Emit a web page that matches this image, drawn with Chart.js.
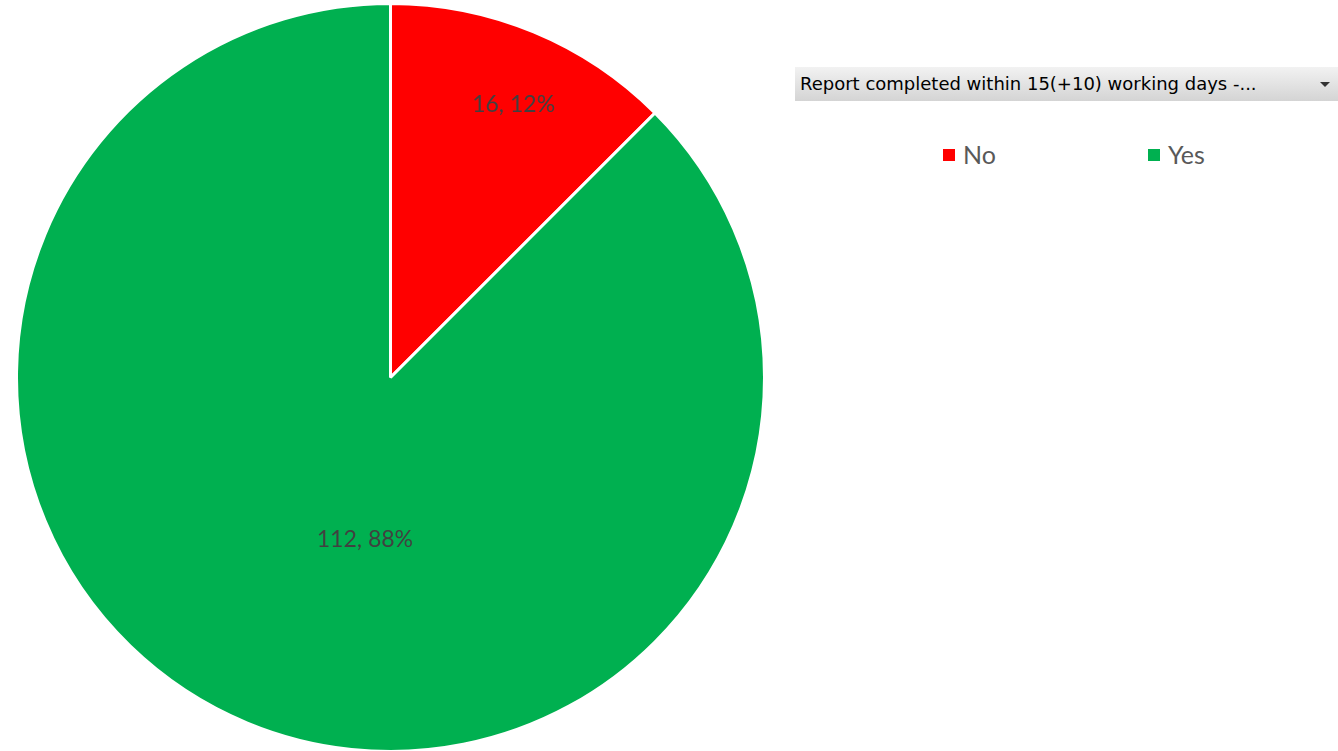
<!DOCTYPE html>
<html>
<head>
<meta charset="utf-8">
<script src="https://cdn.jsdelivr.net/npm/chart.js@4.4.1/dist/chart.umd.min.js"></script>
<style>
  html, body { margin: 0; padding: 0; background: #fff; width: 1338px; height: 751px; overflow: hidden; }
  #pieBox { position: absolute; left: 15px; top: 2px; width: 751px; height: 751px; }
  #filter {
    position: absolute; left: 795px; top: 67px; width: 543px; height: 34px;
    background: linear-gradient(#f2f2f2, #d4d4d4);
    font: 18px "DejaVu Sans", sans-serif; color: #000;
    box-sizing: border-box; padding: 6px 0 0 5px; white-space: nowrap;
  }
  #filter .arrow {
    position: absolute; right: 8px; top: 15px; width: 0; height: 0;
    border-left: 5px solid transparent; border-right: 5px solid transparent; border-top: 5px solid #333;
  }
  #legend { position: absolute; top: 139px; left: 0; font: 25px Lato, sans-serif; color: #595959; }
  #legend .item { position: absolute; white-space: nowrap; }
  #legend .sw { display: inline-block; width: 12px; height: 12px; margin-right: 8px; vertical-align: 3px; }
</style>
</head>
<body>
<div id="pieBox"><canvas id="pie"></canvas></div>
<div id="filter"><span id="filterText"></span><div class="arrow"></div></div>
<div id="legend"></div>
<script>
const categories = ["No", "Yes"];
const counts = [16, 112];
const sliceColors = ["#ff0000", "#00b050"];
const filterLabel = "Report completed within 15(+10) working days -...";

// Excel rounds half to even (12.5 -> 12, 87.5 -> 88)
function roundHalfEven(v) {
  const f = Math.floor(v);
  const d = v - f;
  if (Math.abs(d - 0.5) < 1e-9) return f % 2 === 0 ? f : f + 1;
  return Math.round(v);
}

const total = counts.reduce((a, b) => a + b, 0);
const pctLabels = counts.map(v => v + ", " + roundHalfEven(v / total * 100) + "%");

// where inside each slice the label sits: [radius fraction, angle fraction]
const labelAt = [[0.8, 0.54], [0.44, 0.457]];

const sliceLabels = {
  id: "sliceLabels",
  afterDatasetsDraw(chart) {
    const ctx = chart.ctx;
    const meta = chart.getDatasetMeta(0);
    ctx.save();
    ctx.font = "23px Lato, sans-serif";
    ctx.fillStyle = "#404040";
    ctx.textAlign = "center";
    ctx.textBaseline = "middle";
    meta.data.forEach((arc, i) => {
      const p = arc.getProps(["x", "y", "startAngle", "endAngle", "outerRadius"], true);
      const a = p.startAngle + (p.endAngle - p.startAngle) * labelAt[i][1];
      const r = p.outerRadius * labelAt[i][0];
      ctx.fillText(pctLabels[i], p.x + Math.cos(a) * r, p.y + Math.sin(a) * r);
    });
    ctx.restore();
  }
};

new Chart(document.getElementById("pie"), {
  type: "pie",
  data: {
    labels: categories,
    datasets: [{
      data: counts,
      backgroundColor: sliceColors,
      borderColor: "#ffffff",
      borderWidth: 3
    }]
  },
  options: {
    responsive: true,
    maintainAspectRatio: false,
    animation: false,
    layout: { padding: 0 },
    plugins: {
      legend: { display: false },
      tooltip: { enabled: false }
    }
  },
  plugins: [sliceLabels]
});

document.getElementById("filterText").textContent = filterLabel;

const legendX = [943, 1148];
const legend = document.getElementById("legend");
categories.forEach((c, i) => {
  const it = document.createElement("div");
  it.className = "item";
  it.style.left = legendX[i] + "px";
  it.innerHTML = '<span class="sw" style="background:' + sliceColors[i] + '"></span>' + c;
  legend.appendChild(it);
});
</script>
</body>
</html>
